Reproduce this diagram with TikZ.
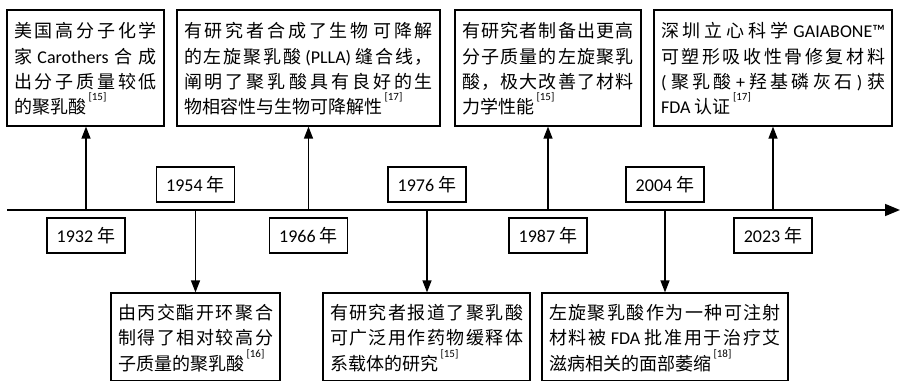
\documentclass[tikz,border=0pt]{standalone}
\usepackage{fontspec}
\setmainfont{Noto Sans CJK SC}
\newfontfamily\lat{Carlito}
\usetikzlibrary{arrows.meta}
\newcount\cjkcount
\cjkcount="4E00
\loop
  \XeTeXcharclass\cjkcount=1
  \advance\cjkcount by 1
\ifnum\cjkcount<"A000 \repeat
\XeTeXcharclass"FF0C=3
\XeTeXcharclass"3001=3
\XeTeXcharclass"3002=3
\XeTeXinterchartokenstate=1
\newcommand\cjkglue{\nobreak\hskip 0pt plus 10pt\relax}
\XeTeXinterchartoks 1 1 = {\cjkglue}
\XeTeXinterchartoks 1 3 = {\cjkglue}
\XeTeXinterchartoks 3 1 = {\cjkglue}
\tolerance=10000
\hbadness=10000
\hfuzz=20pt
\newcommand\refmark[1]{\hspace{2.5pt}\raisebox{13pt}{\lat\fontsize{11}{11}\selectfont[#1]}}
\newcommand\nl{\linebreak}
\tikzset{
  evbox/.style={draw, line width=1.2pt, inner xsep=7pt, inner ysep=0pt,
    align=justify, font=\fontsize{18}{25.3}\selectfont, anchor=center,
    execute at begin node={\setlength{\baselineskip}{25.3pt}}},
  topbox/.style={evbox, text height=28pt, text depth=88pt},
  botbox/.style={evbox, text height=26.5pt, text depth=61pt},
  yrbox/.style={draw, line width=1.2pt, minimum width=78pt, minimum height=35pt,
    inner sep=0pt, font=\fontsize{18}{20}\selectfont},
  arr/.style={line width=1.3pt, -{Triangle[length=12pt,width=9pt]}},
  axisarr/.style={line width=1.5pt, -{Triangle[length=15pt,width=12pt]}},
}
\begin{document}
\begin{tikzpicture}[x=1pt,y=-1pt]
\useasboundingbox (0,0) rectangle (901,382);
% axis
\coordinate (a0) at (7,210);
\coordinate (a1) at (900,210);
\draw[axisarr] (a0) -- (a1);
% timeline points
\coordinate (p1932) at (86,210);
\coordinate (p1954) at (195.5,210);
\coordinate (p1966) at (308.5,210);
\coordinate (p1976) at (427,210);
\coordinate (p1987) at (548,210);
\coordinate (p2004) at (665,210);
\coordinate (p2023) at (773,210);
% year boxes
\node[yrbox] (y1932) at (86,235.5) {{\lat 1932}~年};
\node[yrbox] (y1954) at (195.5,184.5) {{\lat 1954}~年};
\node[yrbox] (y1966) at (308.5,235.5) {{\lat 1966}~年};
\node[yrbox] (y1976) at (427,184.5) {{\lat 1976}~年};
\node[yrbox] (y1987) at (548,235.5) {{\lat 1987}~年};
\node[yrbox] (y2004) at (665,184.5) {{\lat 2004}~年};
\node[yrbox] (y2023) at (773,235.5) {{\lat 2023}~年};
% top event boxes
\node[topbox, text width=143pt] (t1) at (85.5,68)
  {美国高分子化学\nl 家~{\lat Carothers}~合成\nl 出分子质量较低\nl 的聚乳酸\refmark{15}};
\node[topbox, text width=249pt] (t2) at (308.5,68)
  {有研究者合成了生物~可降解\nl 的左旋聚乳酸~{\lat (PLLA)}~缝合线，\nl 阐明了聚乳~酸具有良好的生\nl 物相容性与生物可降解性\refmark{17}};
\node[topbox, text width=172pt] (t3) at (548,68)
  {有研究者制备出更高\nl 分子质量的左旋聚乳\nl 酸，极大改善了材料\nl 力学性能\refmark{15}};
\node[topbox, text width=224pt] (t4) at (773,68)
  {深圳立心科学~{\lat GAIABONE™}\nl 可塑形吸收性骨修复材料\nl {\lat (}~聚乳酸~{\lat +}~羟基磷灰石~{\lat )}~获\nl {\lat FDA}~认证\refmark{17}};
% bottom event boxes
\node[botbox, text width=155pt] (b1) at (195.5,336.75)
  {由丙交酯开环聚合\nl 制得了相对较高分\nl 子质量的聚乳酸\refmark{16}};
\node[botbox, text width=193pt] (b2) at (426.5,336.75)
  {有研究者报道了聚乳酸\nl 可广泛用作药物缓释体\nl 系载体的研究\refmark{15}};
\node[botbox, text width=232pt] (b3) at (665,336.75)
  {左旋聚乳酸作为一种可注射\nl 材料被~{\lat FDA}~批准用于治疗艾\nl 滋病相关的面部萎缩\refmark{18}};
% connectors
\draw[arr] (p1932) -- (p1932 |- t1.south);
\draw[arr] (p1966) -- (p1966 |- t2.south);
\draw[arr] (p1987) -- (p1987 |- t3.south);
\draw[arr] (p2023) -- (p2023 |- t4.south);
\draw[arr] (p1954) -- (p1954 |- b1.north);
\draw[arr] (p1976) -- (p1976 |- b2.north);
\draw[arr] (p2004) -- (p2004 |- b3.north);
\end{tikzpicture}
\end{document}
